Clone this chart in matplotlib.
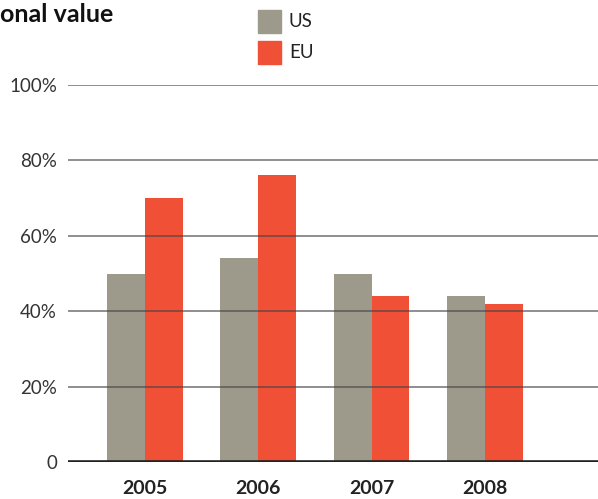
import matplotlib
matplotlib.use("Agg")
import matplotlib.pyplot as plt
from matplotlib.patches import Rectangle

years = ["2005", "2006", "2007", "2008"]
us = [50, 54, 50, 44]
eu = [70, 76, 44, 42]
yticks = [0, 20, 40, 60, 80, 100]
ytick_labels = ["0", "20%", "40%", "60%", "80%", "100%"]

GREY, RED = "#9d9a8c", "#ef5036"
plt.rcParams["font.family"] = ["Lato", "DejaVu Sans"]

fig = plt.figure(figsize=(5.98, 4.99), dpi=100)
ax = fig.add_axes([68 / 598, 1 - 462 / 499, 1 - 68 / 598, (462 - 85) / 499])

bw = 0.335
x = list(range(len(years)))
ax.bar([i - bw / 2 for i in x], us, bw, color=GREY, zorder=2)
ax.bar([i + bw / 2 for i in x], eu, bw, color=RED, zorder=2)

for v in yticks[1:]:
    ax.axhline(v, color="#444444", alpha=0.65, lw=1.3, zorder=3)
ax.axhline(0, color="#222222", lw=2.6, zorder=4)

ax.set_xlim(-0.68, 4.0)
ax.set_ylim(0, 100)
ax.set_yticks(yticks)
ax.set_yticklabels(ytick_labels, fontsize=13.5, color="#333333")
ax.set_xticks(x)
ax.set_xticklabels([])
ax.tick_params(axis="both", length=0)
ax.tick_params(axis="y", pad=8)
for sp in ax.spines.values():
    sp.set_visible(False)

# year labels below the baseline
for i, yr in zip(x, years):
    ax.text(i, -(488 - 462) / 377, yr, transform=ax.get_xaxis_transform(),
            ha="center", va="center", fontsize=14, fontweight="bold",
            color="#222222")

fig.text(0.0, 1 - 15 / 499, "onal value", ha="left", va="center",
         fontsize=18, fontweight="bold", color="#111111")

# legend
for j, (lab, c) in enumerate([("US", GREY), ("EU", RED)]):
    y0 = 1 - (33 + j * 31) / 499
    fig.patches.append(Rectangle((258 / 598, y0), 23 / 598, 23 / 499,
                                 transform=fig.transFigure, color=c, figure=fig))
    fig.text(289 / 598, y0 + 11.5 / 499, lab, ha="left", va="center",
             fontsize=13.5, color="#222222")

fig.savefig("out.png", dpi=100)
